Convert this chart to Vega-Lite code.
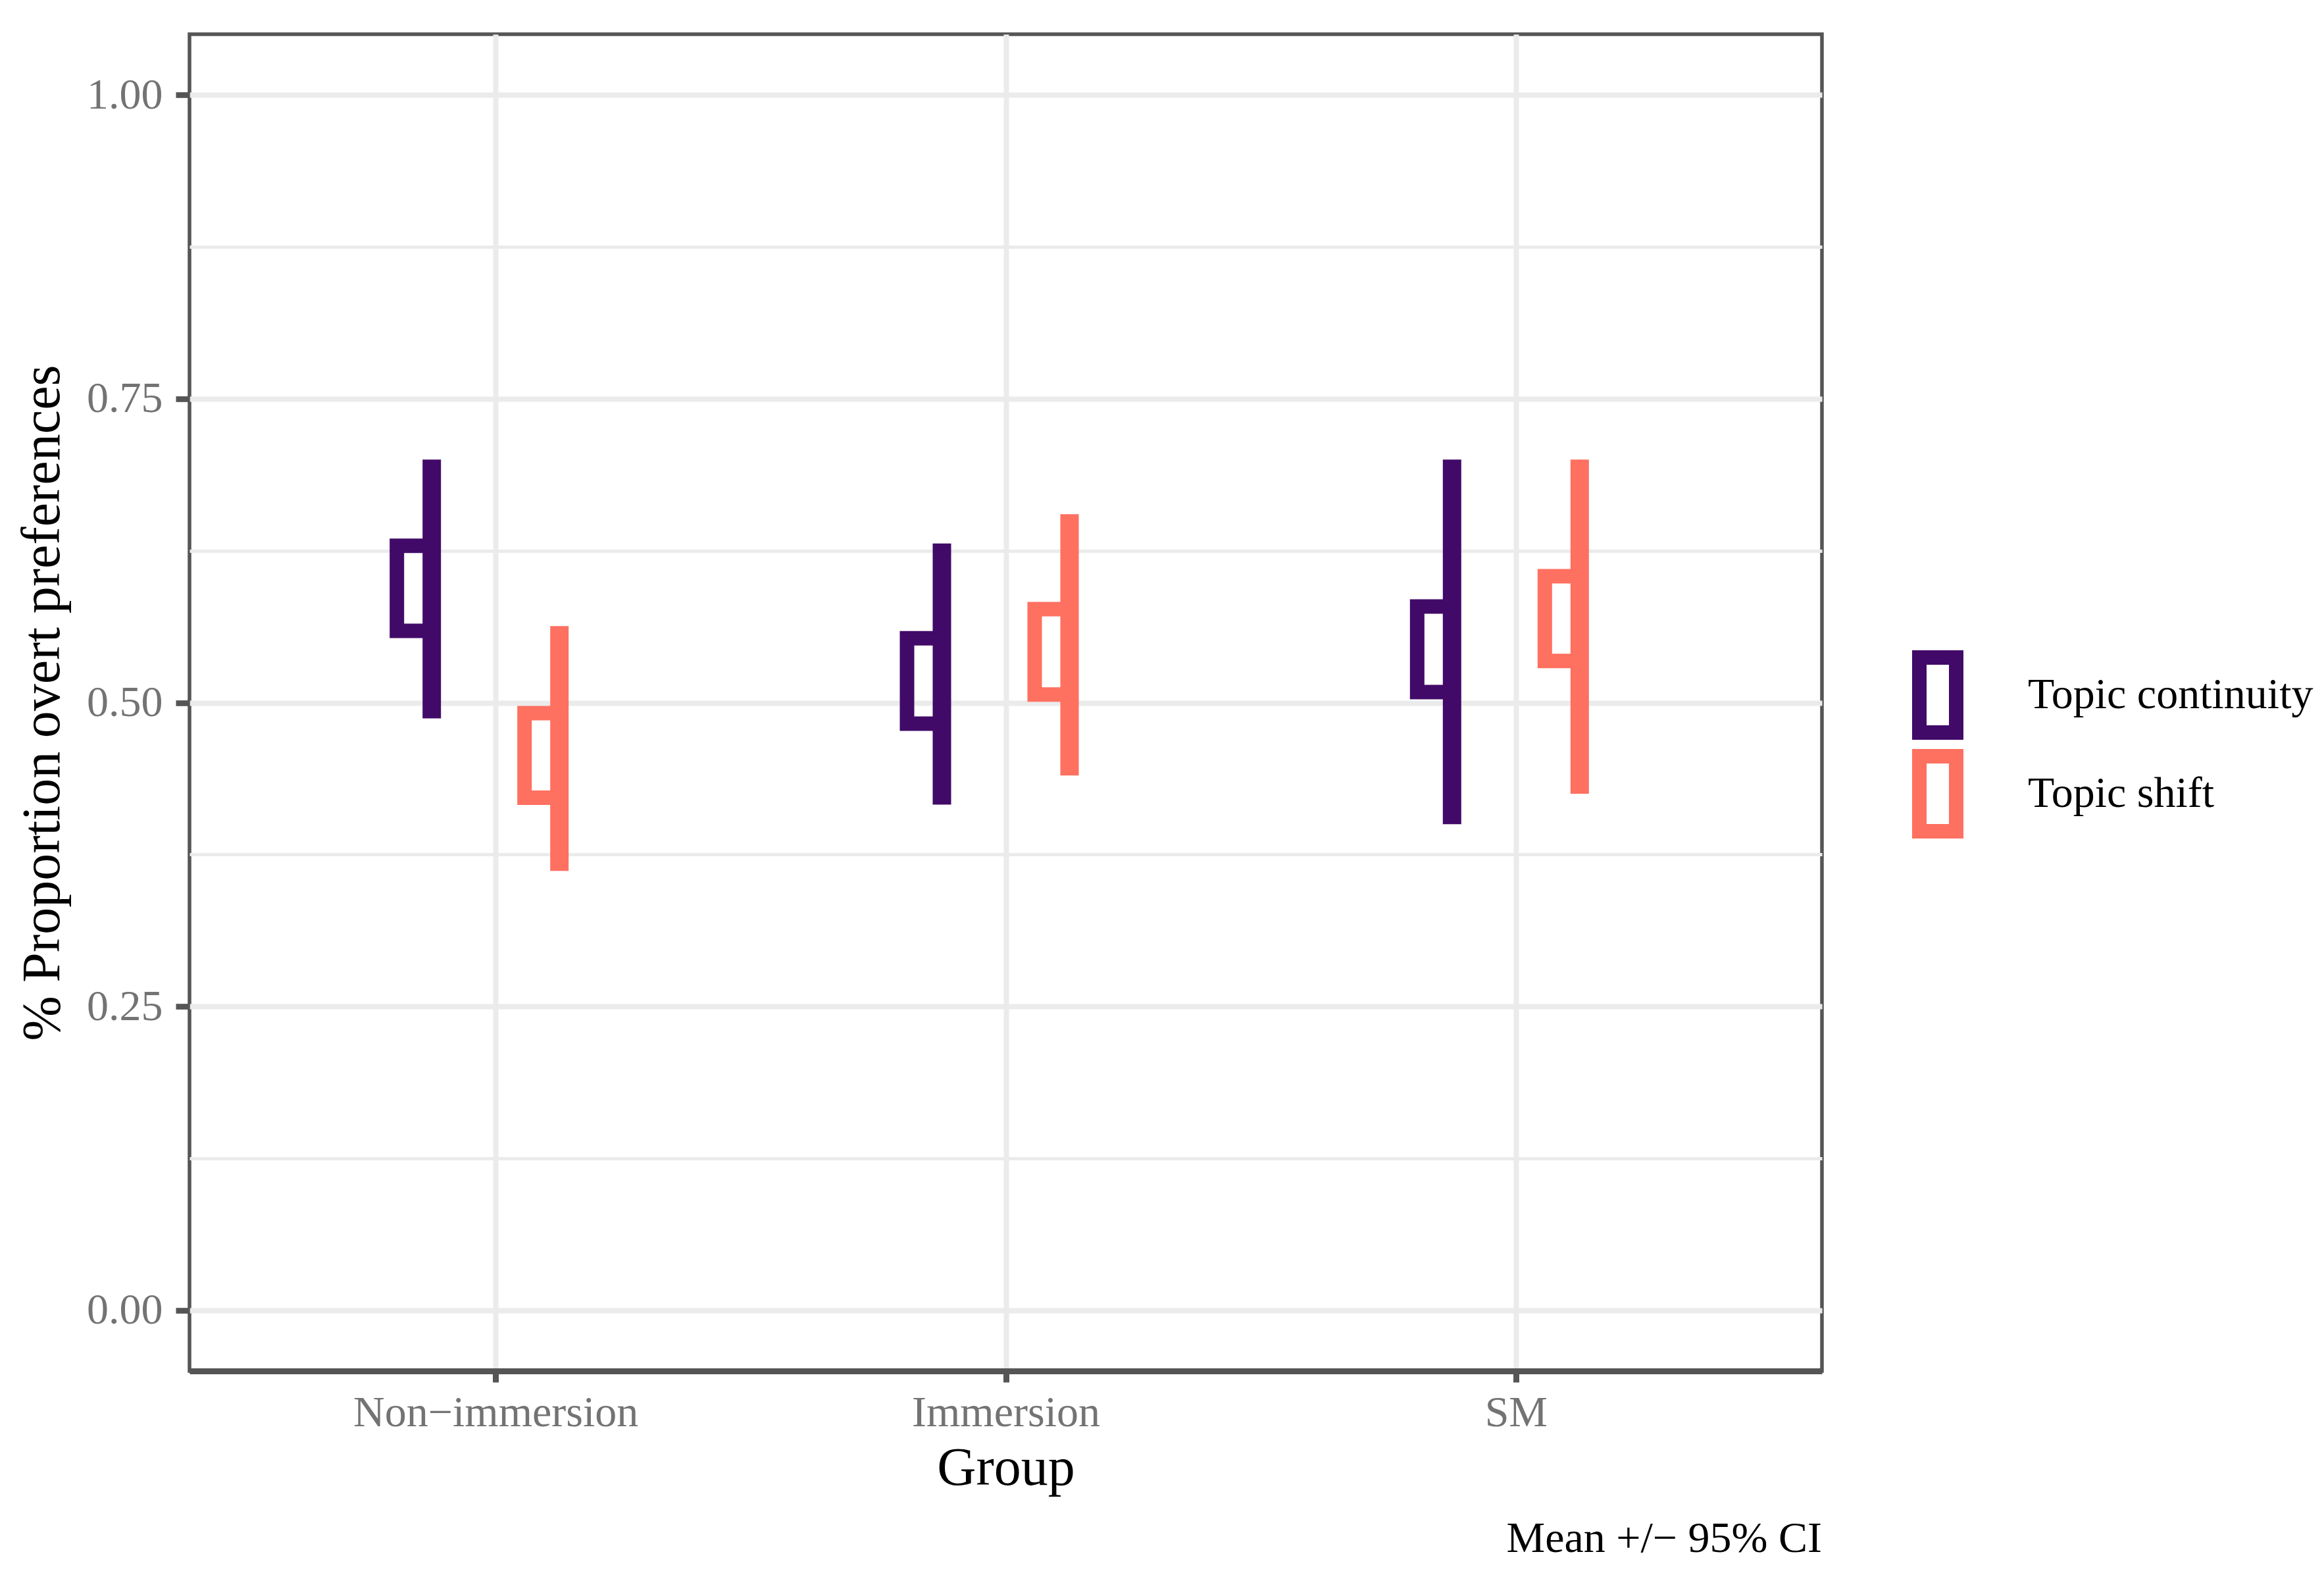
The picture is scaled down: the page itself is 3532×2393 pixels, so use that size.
{
  "$schema": "https://vega.github.io/schema/vega-lite/v6.json",
  "width": 2481,
  "height": 2031,
  "autosize": {"type": "none"},
  "padding": {"left": 288, "top": 52, "right": 763, "bottom": 310},
  "background": "white",
  "title": {
    "text": "Mean +/− 95% CI",
    "orient": "bottom",
    "anchor": "end",
    "frame": "group",
    "offset": 35,
    "fontSize": 66,
    "font": "Liberation Serif",
    "fontWeight": "normal",
    "color": "black"
  },
  "config": {
    "font": "Liberation Serif",
    "view": {"stroke": "#555555", "strokeWidth": 5.5},
    "axis": {
      "labelFont": "Liberation Serif",
      "titleFont": "Liberation Serif",
      "labelFontSize": 66,
      "labelColor": "#737373",
      "labelLimit": 0,
      "titleFontSize": 82,
      "titleFontWeight": "normal",
      "titleColor": "black",
      "gridColor": "#EBEBEB",
      "tickColor": "#555555"
    }
  },
  "data": {
    "values": [
      {"group": "Non−immersion", "type": "Topic continuity", "ci_low": 0.487, "ci_high": 0.700, "box_low": 0.559, "box_high": 0.629},
      {"group": "Non−immersion", "type": "Topic shift", "ci_low": 0.3615, "ci_high": 0.563, "box_low": 0.4217, "box_high": 0.4914},
      {"group": "Immersion", "type": "Topic continuity", "ci_low": 0.416, "ci_high": 0.631, "box_low": 0.4827, "box_high": 0.553},
      {"group": "Immersion", "type": "Topic shift", "ci_low": 0.440, "ci_high": 0.655, "box_low": 0.5067, "box_high": 0.5769},
      {"group": "SM", "type": "Topic continuity", "ci_low": 0.400, "ci_high": 0.700, "box_low": 0.5087, "box_high": 0.5791},
      {"group": "SM", "type": "Topic shift", "ci_low": 0.425, "ci_high": 0.700, "box_low": 0.5342, "box_high": 0.604}
    ]
  },
  "encoding": {
    "x": {
      "field": "group",
      "type": "nominal",
      "sort": ["Non−immersion", "Immersion", "SM"],
      "scale": {"type": "point", "padding": 0.6},
      "axis": {
        "title": "Group",
        "labelAngle": 0,
        "labelLimit": 0,
        "domain": true,
        "domainColor": "#555555",
        "domainWidth": 9,
        "tickSize": 17,
        "tickWidth": 9,
        "labelPadding": 14,
        "titlePadding": 11,
        "grid": true,
        "gridWidth": 8
      }
    },
    "color": {
      "field": "type",
      "type": "nominal",
      "scale": {"domain": ["Topic continuity", "Topic shift"], "range": ["#420A68", "#FE7060"]},
      "legend": {
        "orient": "none",
        "legendX": 2616,
        "legendY": 963,
        "title": null,
        "padding": 0,
        "symbolType": "M-0.933,-1.9H0.933V1.9H-0.933Z",
        "symbolSize": 3600,
        "symbolStrokeWidth": 22,
        "symbolFillColor": "white",
        "labelFont": "Liberation Serif",
        "labelFontSize": 66,
        "labelColor": "black",
        "labelLimit": 0,
        "labelOffset": 96,
        "rowPadding": -52
      }
    }
  },
  "layer": [
    {
      "transform": [{"filter": "datum.type === 'Topic continuity'"}],
      "mark": {"type": "bar", "filled": false, "strokeWidth": 22, "width": 53, "xOffset": -123.5, "strokeJoin": "miter"},
      "encoding": {
        "y": {
          "field": "box_low",
          "type": "quantitative",
          "scale": {"domain": [-0.05, 1.05], "nice": false, "zero": false},
          "axis": {
            "title": "% Proportion overt preferences",
            "values": [0, 0.125, 0.25, 0.375, 0.5, 0.625, 0.75, 0.875, 1],
            "labelExpr": "(datum.value * 4) % 1 === 0 ? format(datum.value, '.2f') : ''",
            "domain": false,
            "tickSize": 21,
            "tickWidth": 8.7,
            "tickOpacity": {"condition": {"test": "(datum.value * 4) % 1 !== 0", "value": 0}, "value": 1},
            "gridWidth": {"condition": {"test": "(datum.value * 4) % 1 !== 0", "value": 5}, "value": 8},
            "labelPadding": 20,
            "titlePadding": 25,
            "grid": true
          }
        },
        "y2": {"field": "box_high"}
      }
    },
    {
      "transform": [{"filter": "datum.type === 'Topic shift'"}],
      "mark": {"type": "bar", "filled": false, "strokeWidth": 22, "width": 53, "xOffset": 70.5, "strokeJoin": "miter"},
      "encoding": {
        "y": {"field": "box_low", "type": "quantitative"},
        "y2": {"field": "box_high"}
      }
    },
    {
      "transform": [{"filter": "datum.type === 'Topic continuity'"}],
      "mark": {"type": "rule", "strokeWidth": 28, "xOffset": -97},
      "encoding": {
        "y": {"field": "ci_low", "type": "quantitative"},
        "y2": {"field": "ci_high"}
      }
    },
    {
      "transform": [{"filter": "datum.type === 'Topic shift'"}],
      "mark": {"type": "rule", "strokeWidth": 28, "xOffset": 97},
      "encoding": {
        "y": {"field": "ci_low", "type": "quantitative"},
        "y2": {"field": "ci_high"}
      }
    }
  ]
}
